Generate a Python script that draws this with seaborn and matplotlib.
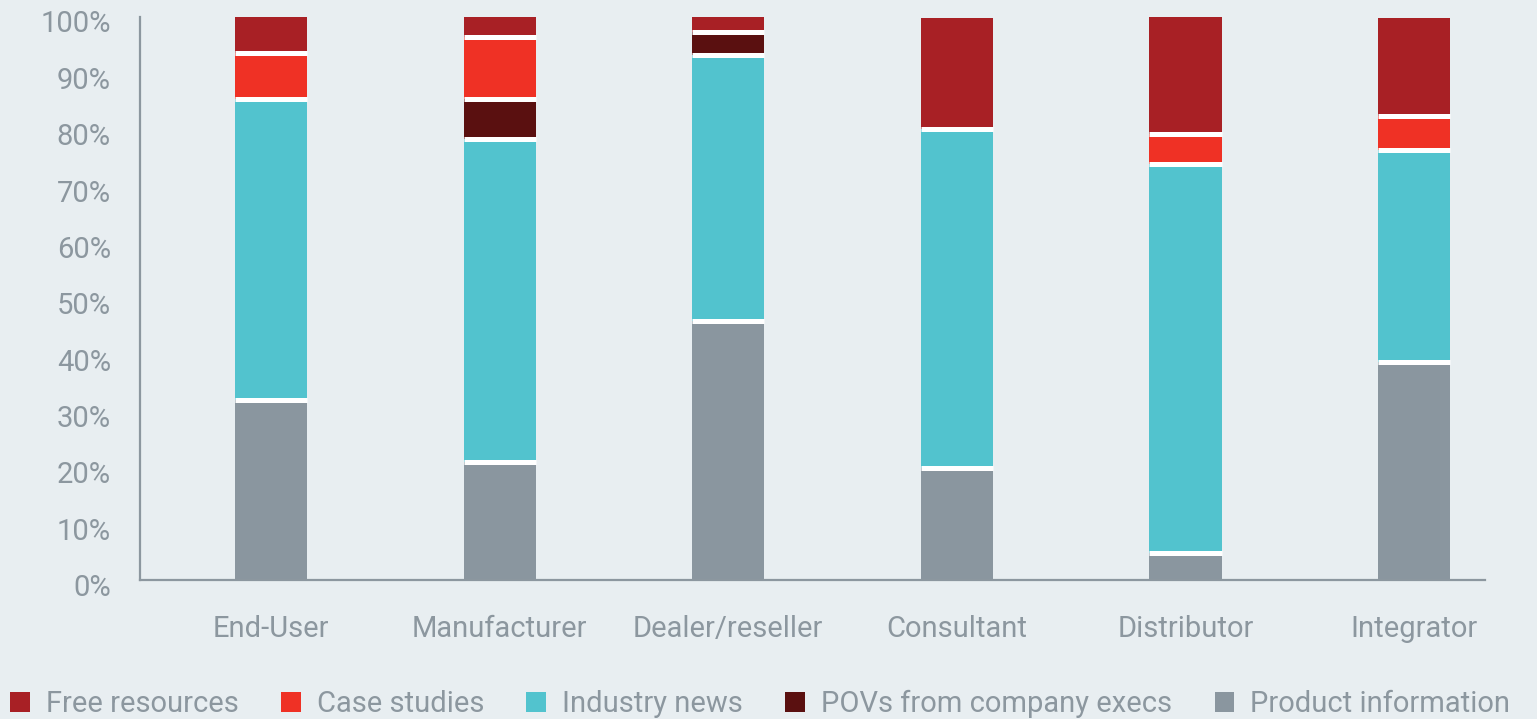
import numpy as np
import pandas as pd
import matplotlib
matplotlib.use("Agg")
import matplotlib.pyplot as plt
from matplotlib.patches import Patch
from matplotlib.transforms import ScaledTranslation
import seaborn as sns

categories = ["End-User", "Manufacturer", "Dealer/reseller", "Consultant", "Distributor", "Integrator"]
product_info = [32.0, 20.9, 45.9, 19.8, 4.8, 38.6]
industry_news = [53.4, 57.3, 47.2, 60.3, 69.1, 37.7]
povs_execs = [0.0, 7.1, 4.1, 0.0, 0.0, 0.0]
case_studies = [8.1, 11.0, 0.0, 0.0, 5.2, 6.0]
free_resources = [6.5, 3.7, 2.8, 19.7, 20.8, 17.4]
yticks = [0, 10, 20, 30, 40, 50, 60, 70, 80, 90, 100]
ytick_labels = [f"{v}%" for v in yticks]

series_names = ["Product information", "Industry news", "POVs from company execs", "Case studies", "Free resources"]
series_values = [product_info, industry_news, povs_execs, case_studies, free_resources]
series_colors = ["#8a969f", "#52c3ce", "#5a1010", "#ef3125", "#a82025"]

bg = "#e8eef1"
txt = "#8c979f"

sns.set_theme(style="white")
plt.rcParams['font.family'] = ['Roboto', 'DejaVu Sans']

fig = plt.figure(figsize=(15.37, 7.19), dpi=100, facecolor=bg)
ax = fig.add_axes([140/1537, 1-580/719, (1485-140)/1537, (580-16.5)/719])
ax.set_facecolor(bg)

bar_w = 0.315
bottom = np.zeros(len(categories))
for name, vals, col in zip(series_names, series_values, series_colors):
    vals = np.array(vals)
    sns.barplot(x=categories, y=vals, bottom=bottom, color=col, width=bar_w,
                saturation=1, edgecolor="none", linewidth=0, ax=ax, order=categories)
    bottom = bottom + vals

# white separators between stacked segments
for i in range(len(categories)):
    cum = np.cumsum([s[i] for s in series_values])
    bounds = sorted(set(round(c, 4) for c in cum[:-1] if c > 0))
    bounds = [b for b in bounds if b < cum[-1] - 1e-6]
    for b in bounds:
        ax.hlines(b, i - bar_w/2, i + bar_w/2, colors="white", linewidth=3.6, zorder=5)

ax.set_xlim(-0.573, 5.31)
ax.set_ylim(0, 100)
ax.set_yticks(yticks)
ax.set_yticklabels(ytick_labels)
ax.tick_params(axis="y", length=0, pad=21, labelsize=21, labelcolor=txt)
ax.tick_params(axis="x", length=0, pad=25, labelsize=21, labelcolor=txt)
ax.set_xlabel("")
ax.set_ylabel("")
shift = ScaledTranslation(0, -5/100, fig.dpi_scale_trans)
for lab in ax.get_yticklabels():
    lab.set_transform(lab.get_transform() + shift)
for s in ["top", "right"]:
    ax.spines[s].set_visible(False)
for s in ["left", "bottom"]:
    ax.spines[s].set_color(txt)
    ax.spines[s].set_linewidth(1.6)

handles = [Patch(facecolor=c, edgecolor="none") for c in
           ["#a82025", "#ef3125", "#52c3ce", "#5a1010", "#8a969f"]]
labels = ["Free resources", "Case studies", "Industry news", "POVs from company execs", "Product information"]
fig.legend(handles, labels, loc="center left", bbox_to_anchor=(10/1537, 1-704/719),
           ncol=5, frameon=False, fontsize=21, labelcolor=txt,
           handlelength=0.68, handleheight=0.68, handletextpad=0.55,
           columnspacing=1.45, borderpad=0, borderaxespad=0)

fig.savefig("out.png", dpi=100, facecolor=bg)
